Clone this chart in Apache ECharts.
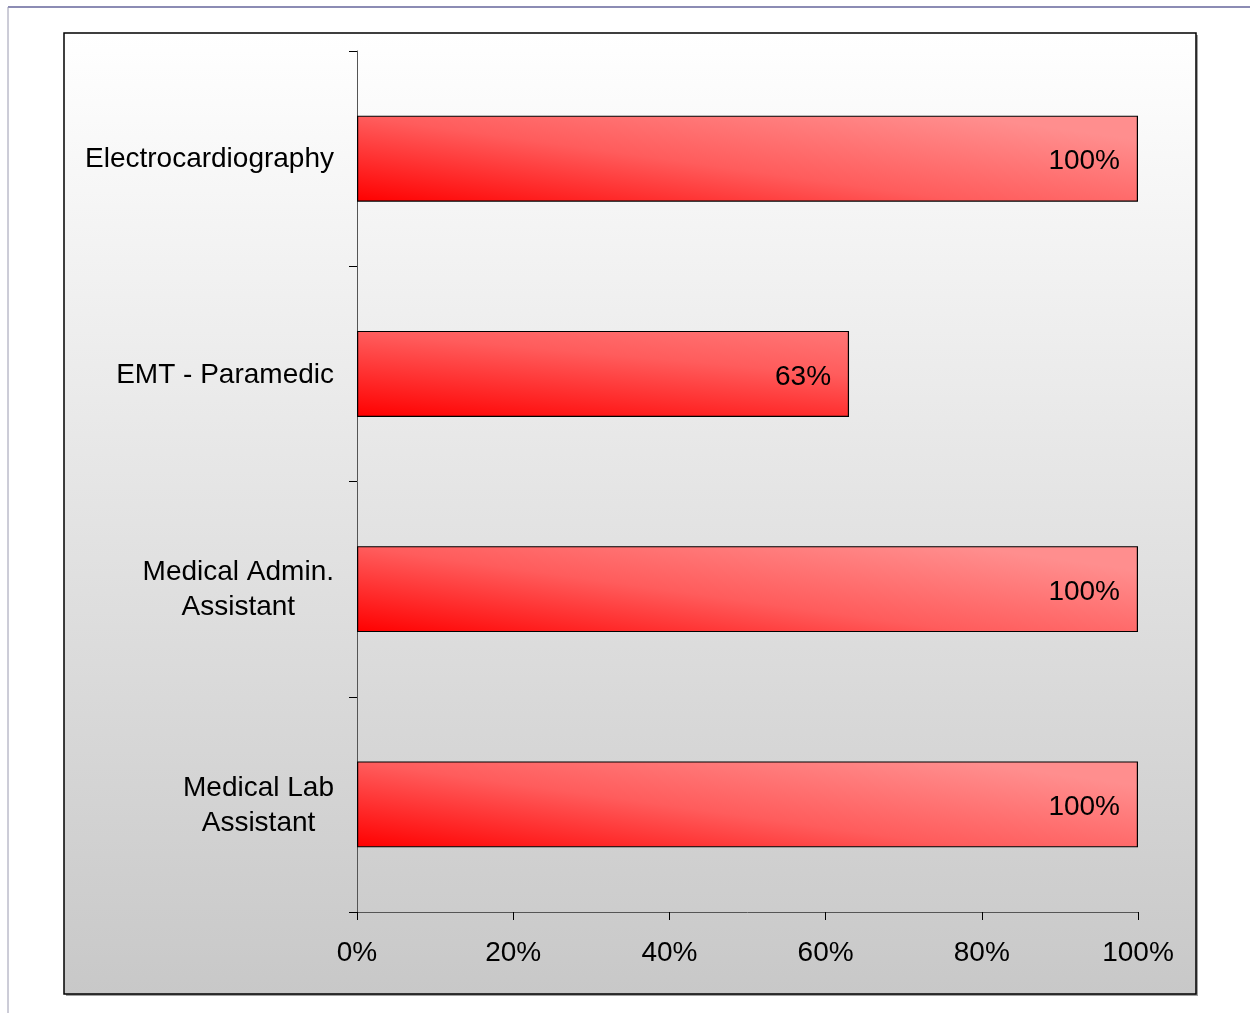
<!DOCTYPE html>
<html>
<head>
<meta charset="utf-8">
<script src="https://cdn.jsdelivr.net/npm/echarts@6/dist/echarts.min.js"></script>
<style>
html,body{margin:0;padding:0;background:#fff;}
#chart{width:1250px;height:1013px;}
</style>
</head>
<body>
<div id="chart"></div>
<script>
var categories = ['Electrocardiography', 'EMT - Paramedic', 'Medical Admin.\nAssistant', 'Medical Lab\nAssistant'];
var values = [100, 63, 100, 100];
var xTicks = [0, 20, 40, 60, 80, 100];

var chart = echarts.init(document.getElementById('chart'), null, {renderer: 'canvas'});
var FONT = '"Liberation Sans", Arial, sans-serif';

var barGrad = new echarts.graphic.LinearGradient(0, 1, 0.03, -0.95, [
  {offset: 0, color: '#ff0000'},
  {offset: 0.5, color: '#ff5c5c'},
  {offset: 1, color: '#ff8e8e'}
]);

chart.setOption({
  animation: false,
  backgroundColor: '#ffffff',
  graphic: [
    {type: 'line', shape: {x1: 8, y1: 7, x2: 1250, y2: 7}, style: {stroke: '#8c8cb4', lineWidth: 2}, z: -10},
    {type: 'line', shape: {x1: 8, y1: 7, x2: 8, y2: 1013}, style: {stroke: '#9a9ab0', lineWidth: 1}, z: -10},
    {type: 'rect', shape: {x: 66, y: 35, width: 1132, height: 961}, style: {fill: '#a0a0a0'}, z: -9},
    {type: 'rect', shape: {x: 64, y: 33, width: 1132, height: 961},
      style: {
        fill: new echarts.graphic.LinearGradient(0, 0, 0, 1, [
          {offset: 0, color: '#ffffff'},
          {offset: 1, color: '#c8c8c8'}
        ]),
        stroke: '#000000', lineWidth: 1.5
      }, z: -8}
  ],
  grid: {left: 357, right: 112, top: 51, bottom: 101, containLabel: false},
  xAxis: {
    type: 'value', min: 0, max: 100, interval: 20,
    axisLine: {show: true, onZero: false, lineStyle: {color: '#555555', width: 1}},
    axisTick: {show: true, length: 8, lineStyle: {color: '#000000'}},
    splitLine: {show: false},
    axisLabel: {
      margin: 27, fontSize: 28, fontFamily: FONT, color: '#000',
      formatter: function (v) { return xTicks.indexOf(v) >= 0 ? v + '%' : ''; }
    }
  },
  yAxis: {
    type: 'category', data: categories, inverse: true,
    axisLine: {show: true, lineStyle: {color: '#555555', width: 1}},
    axisTick: {show: true, length: 8, lineStyle: {color: '#000000'}},
    axisLabel: {
      margin: 23, fontFamily: FONT, color: '#000',
      formatter: function (v) {
        return v.split('\n').map(function (s) { return '{c|' + s + '}'; }).join('\n');
      },
      rich: {c: {fontSize: 28, fontFamily: FONT, color: '#000', align: 'center', lineHeight: 35, padding: [2, 0, 0, 0]}}
    }
  },
  series: [{
    type: 'bar',
    data: values,
    barWidth: 86,
    itemStyle: {color: barGrad, borderColor: '#000000', borderWidth: 1.2},
    label: {
      show: true, position: 'insideRight', distance: 18, offset: [0, 3],
      fontSize: 28, fontFamily: FONT, color: '#000',
      formatter: function (p) { return p.value + '%'; }
    }
  }]
});
</script>
</body>
</html>
